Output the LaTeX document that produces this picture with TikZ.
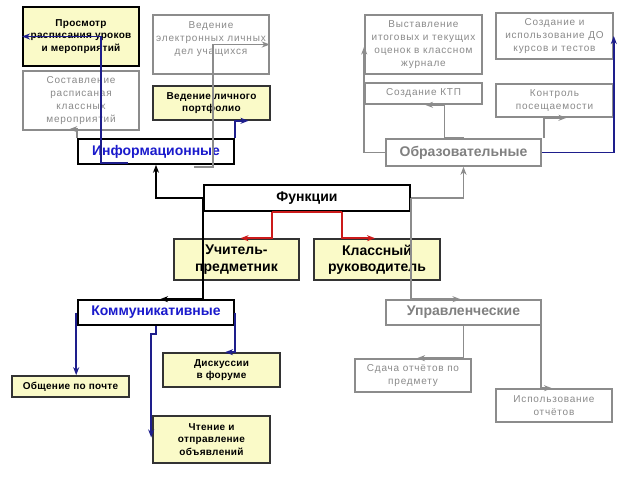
\documentclass[tikz,border=0pt]{standalone}
\usepackage{fontspec}
\setmainfont{Liberation Sans}
\newfontfamily\gfont{Liberation Sans}[LetterSpace=8]
\newfontfamily\yfont{Liberation Sans}[LetterSpace=3]
\usetikzlibrary{arrows.meta,calc}
\definecolor{gborder}{HTML}{8C8C8C}
\definecolor{gtext}{HTML}{8A8A8A}
\definecolor{yfill}{HTML}{FAFAC8}
\definecolor{btext}{HTML}{1A1ACC}
\definecolor{bline}{HTML}{1E1E8C}
\definecolor{rline}{HTML}{CC1A1A}
\tikzset{
  box/.style={draw, line width=1.6pt, align=center, inner sep=1pt},
  gbox/.style={box, draw=gborder, text=gtext, font=\gfont\fontsize{10}{12.8}\selectfont},
  ybox/.style={box, draw=black!80, fill=yfill, font=\yfont\bfseries\fontsize{10}{12.8}\selectfont},
  bigy/.style={box, draw=black!80, fill=yfill, font=\bfseries\fontsize{14}{16.5}\selectfont},
  headb/.style={box, draw=black, text=btext, font=\bfseries\fontsize{14}{16}\selectfont},
  headg/.style={box, draw=gborder, text=black!50, font=\bfseries\fontsize{14}{16}\selectfont},
  tip/.style={-{Stealth[length=8pt,width=6pt,inset=2.5pt]}},
  kline/.style={line width=1.6pt, draw=black, tip},
  gline/.style={line width=1.6pt, draw=gborder, tip},
  bl/.style={line width=1.6pt, draw=bline, tip},
  rl/.style={line width=1.6pt, draw=rline, tip},
}
\begin{document}
\begin{tikzpicture}[x=1pt,y=-1pt]
\useasboundingbox[fill=white] (0,0) rectangle (640,480);
% top-left
\node[ybox, line width=2pt, draw=black, minimum width=116pt, minimum height=59pt] (prs) at (81,36.5) {Просмотр\\расписания уроков\\и мероприятий};
\node[gbox, minimum width=116pt, minimum height=59pt] (sos) at (81,100.5) {Составление\\расписаная\\классных\\мероприятий};
\node[gbox, minimum width=116pt, minimum height=59pt] (ved) at (211,44.5) {Ведение\\электронных личных\\дел учащихся\\~};
\node[ybox, minimum width=117pt, minimum height=34pt] (port) at (211.5,103) {Ведение личного\\портфолио};
\node[headb, minimum width=156pt, minimum height=25pt] (inf) at (156,151.5) {Информационные};
% top-right
\node[gbox, minimum width=117pt, minimum height=59pt] (vys) at (423.5,44.5) {Выставление\\итоговых и текущих\\оценок в классном\\журнале};
\node[gbox, minimum width=117pt, minimum height=21pt] (ktp) at (423.5,93.5) {Создание КТП};
\node[gbox, minimum width=117pt, minimum height=46pt] (sdo) at (554.5,36) {Создание и\\использование ДО\\курсов и тестов};
\node[gbox, minimum width=117pt, minimum height=33pt] (kon) at (554.5,100.5) {Контроль\\посещаемости};
\node[headg, minimum width=155pt, minimum height=27pt] (obr) at (463.5,152.5) {Образовательные};
% center
\node[box, draw=black, font=\bfseries\fontsize{14}{16}\selectfont, minimum width=206pt, minimum height=26pt] (fun) at (307,198) {Функции};
\node[bigy, minimum width=125pt, minimum height=41pt] (uch) at (236.5,259.5) {Учитель-\\предметник};
\node[bigy, minimum width=126pt, minimum height=41pt] (kl) at (377,259.5) {Классный\\руководитель};
% bottom
\node[headb, minimum width=156pt, minimum height=25pt] (kom) at (156,312.5) {Коммуникативные};
\node[headg, minimum width=155pt, minimum height=25pt] (upr) at (463.5,312.5) {Управленческие};
\node[ybox, minimum width=117pt, minimum height=21pt] (obs) at (70.5,386.5) {Общение по почте};
\node[ybox, minimum width=117pt, minimum height=34pt] (dis) at (221.5,370) {Дискуссии\\в форуме};
\node[ybox, minimum width=117pt, minimum height=47pt] (cht) at (211.5,439.5) {Чтение и\\отправление\\объявлений};
\node[gbox, minimum width=116pt, minimum height=33pt] (sda) at (413,375.5) {Сдача отчётов по\\предмету};
\node[gbox, minimum width=116pt, minimum height=33pt] (isp) at (554,405.5) {Использование\\отчётов};
% connectors from Функции
\draw[kline] (fun.west) -| (inf.south);
\draw[gline] (fun.east) -| (obr.south);
\draw[kline] (fun.west) -- (fun.west |- kom.north) -- ($(kom.north)+(4,0)$);
\draw[gline] (fun.east) -- (fun.east |- upr.north) -- ($(upr.north)+(-3,0)$);
\draw[line width=1.6pt, rline] ($(fun.south)+(-35,0)$) -- ($(fun.south)+(35,0)$);
\draw[rl] ($(fun.south)+(-35,0)$) |- ($(uch.north)+(4,0)$);
\draw[rl] ($(fun.south)+(35,0)$) |- ($(kl.north)+(-2,0)$);
% Информационные
\draw[bl] ($(inf.south)+(-28,-2)$) -- ++(-27,0) |- (prs.west);
\draw[gline] (inf.north west) -- ++(0,-9) -- ++(-8,0);
\draw[gline] ($(inf.south)+(38,2)$) -- ++(19,0) |- (ved.east);
\draw[bl] (inf.north east) |- ($(port.south)+(37,0)$);
% Образовательные
\draw[gline] (obr.west) -| ($(vys.west)+(0,2)$);
\draw[gline] (obr.north) -- ++(-19,0) |- ($(ktp.south)+(1.5,0)$);
\draw[gline] ($(obr.north east)+(2,0)$) |- ($(kon.south)+(12,0)$);
\draw[bl] (obr.east) -| (sdo.east);
% Коммуникативные
\draw[bl] ($(kom.west)+(-1,0)$) -- ($(kom.west |- obs.north)+(-1,0)$);
\draw[bl] (kom.east) |- ($(dis.north)+(3.5,0)$);
\draw[bl] (kom.south) -- ++(0,8) -| ($(cht.west)+(-1,-2)$);
% Управленческие
\draw[gline] (upr.south) |- ($(sda.north)+(4,0)$);
\draw[gline] ($(upr.east)+(-1,0)$) |- ($(isp.north)+(-2,0)$);
\end{tikzpicture}
\end{document}
